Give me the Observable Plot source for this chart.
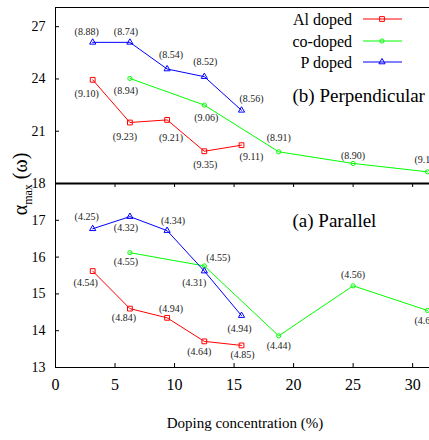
<!DOCTYPE html>
<html><head><meta charset="utf-8">
<script src="https://cdn.jsdelivr.net/npm/d3@7"></script>
<script src="https://cdn.jsdelivr.net/npm/@observablehq/plot@0.6"></script>
<style>
html,body{margin:0;padding:0;background:#fff;overflow:hidden;}
#wrap{position:relative;width:429px;height:440px;overflow:hidden;font-family:"Liberation Serif","Times New Roman",serif;background:#fff;}
#wrap svg{position:absolute;left:0;max-width:none !important;}
#ytitle{position:absolute;left:22px;top:184px;transform:translate(-50%,-50%) rotate(-90deg);white-space:nowrap;font-size:20px;line-height:1;color:#000;}
#ytitle sub{font-size:12px;vertical-align:-0.4em;}
</style></head><body><div id="wrap"><div id="ytitle">α<sub>max</sub> (ω)</div></div>
<script>
// ---------------- data ----------------
const seriesNames = ["Al doped", "co-doped", "P doped"];
const xAl = [3.125, 6.25, 9.375, 12.5, 15.625];
const xCo = [6.25, 12.5, 18.75, 25, 31.25];
const xP  = [3.125, 6.25, 9.375, 12.5, 15.625];

// (b) Perpendicular
const perpAl = [23.95, 21.5, 21.65, 19.85, 20.2];
const perpCo = [24.03, 22.5, 19.82, 19.15, 18.67];
const perpP  = [26.1, 26.1, 24.57, 24.13, 22.2];
const perpAlLabels = ["(9.10)", "(9.23)", "(9.21)", "(9.35)", "(9.11)"];
const perpCoLabels = ["(8.94)", "(9.06)", "(8.91)", "(8.90)", "(9.10)"];
const perpPLabels  = ["(8.88)", "(8.74)", "(8.54)", "(8.52)", "(8.56)"];

// (a) Parallel
const parAl = [15.62, 14.6, 14.35, 13.71, 13.6];
const parCo = [16.12, 15.76, 13.86, 15.22, 14.55];
const parP  = [16.77, 17.1, 16.72, 15.62, 14.41];
const parAlLabels = ["(4.54)", "(4.84)", "(4.94)", "(4.64)", "(4.85)"];
const parCoLabels = ["(4.55)", "(4.55)", "(4.44)", "(4.56)", "(4.64)"];
const parPLabels  = ["(4.25)", "(4.32)", "(4.34)", "(4.31)", "(4.94)"];

const xTicks = [0, 5, 10, 15, 20, 25, 30];
const yTicksPerp = [18, 21, 24, 27];
const yTicksPar = [13, 14, 15, 16, 17];

const xLabel = "Doping concentration (%)";
const perpTitle = "(b) Perpendicular";
const parTitle = "(a) Parallel";

// ---------------- layout / style ----------------
const colors = ["#ff0000", "#00ff00", "#0000ff"];
const symbols = ["square", "circle", "triangle"];
const symR = [2.7, 2.1, 2.3];
const d3Symbols = [d3.symbolSquare, d3.symbolCircle, d3.symbolTriangle];
const FONT = "'Liberation Serif', 'Times New Roman', serif";
const W = 440, ML = 55;
const frameW = W - ML;

// label offsets [dx, dy] in pixels
const offPerpAl = [[-6, 14], [-5, 14], [4, 18], [1, 14], [10, 12]];
const offPerpCo = [[-4, 12], [2, 13], [0, -14], [0, -8], [-1, -12]];
const offPerpP  = [[-6, -11], [-4, -11], [4, -14], [1, -15], [10, -12]];
const offParAl  = [[-7, 12], [-6, 9], [4, -9], [-5, 10], [1, 9]];
const offParCo  = [[-4, 9], [14, -8], [0, 10], [0, -11], [-1, 10]];
const offParP   = [[-6, -12], [-4, 11], [6, -10], [-10, 12], [-2, 13]];

function seriesMarks(xs, ys, labels, offs, k) {
  const idx = xs.map((_, i) => i);
  const marks = [
    Plot.line(idx, {x: i => xs[i], y: i => ys[i], stroke: colors[k], strokeWidth: 1}),
    Plot.dot(idx, {x: i => xs[i], y: i => ys[i], symbol: symbols[k], r: symR[k], stroke: colors[k], fill: "none", strokeWidth: 1})
  ];
  idx.forEach(i => {
    marks.push(Plot.text([i], {x: j => xs[j], y: j => ys[j], text: j => labels[j],
      dx: offs[i][0], dy: offs[i][1], fontSize: 10, fill: "#222", fontFamily: FONT}));
  });
  return marks;
}

const wrap = document.getElementById("wrap");
const svgStyle = {background: "none", fontFamily: FONT, color: "#000", overflow: "visible", maxWidth: "none"};

// ---- top panel: (b) Perpendicular ----
const topH = 184, topMT = 7, topMB = 1;
const topPlot = Plot.plot({
  width: W, height: topH,
  marginLeft: ML, marginRight: 0, marginTop: topMT, marginBottom: topMB,
  style: svgStyle,
  x: {domain: [0, 32.34], axis: null},
  y: {domain: [18, 28.1]},
  marks: [
    Plot.frame({stroke: "#000", strokeWidth: 1}),
    Plot.tickY(yTicksPerp, {y: d => d, insetRight: frameW - 4, stroke: "#000"}),
    Plot.axisY({ticks: yTicksPerp, tickFormat: d => String(d), tickSize: 0, tickPadding: 10, fontSize: 14, label: null}),
    ...seriesMarks(xAl, perpAl, perpAlLabels, offPerpAl, 0),
    ...seriesMarks(xCo, perpCo, perpCoLabels, offPerpCo, 1),
    ...seriesMarks(xP, perpP, perpPLabels, offPerpP, 2),
    Plot.text([perpTitle], {frameAnchor: "top-left", dx: 292 - ML, dy: 95 - topMT, textAnchor: "start", lineAnchor: "middle", fontSize: 19, fill: "#000"})
  ]
});
topPlot.style.top = "0px";
topPlot.style.width = W + "px";
topPlot.style.height = topH + "px";
wrap.appendChild(topPlot);

// legend
const leg = d3.select(topPlot).append("g").attr("font-family", FONT);
seriesNames.forEach((name, k) => {
  const y = [19, 41, 62][k];
  leg.append("text").attr("x", 352).attr("y", y).attr("dy", "0.35em")
    .attr("text-anchor", "end").attr("font-size", 16).attr("fill", "#000").text(name);
  leg.append("line").attr("x1", 363).attr("x2", 402).attr("y1", y).attr("y2", y)
    .attr("stroke", colors[k]).attr("stroke-width", 1);
  leg.append("path").attr("transform", `translate(382,${y})`)
    .attr("d", d3.symbol(d3Symbols[k], symR[k] * symR[k] * Math.PI)())
    .attr("fill", "none").attr("stroke", colors[k]).attr("stroke-width", 1);
});

// ---- bottom panel: (a) Parallel ----
const botH = 265, botMT = 8, botMB = 73;
const botFrameH = botH - botMT - botMB;
const botPlot = Plot.plot({
  width: W, height: botH,
  marginLeft: ML, marginRight: 0, marginTop: botMT, marginBottom: botMB,
  style: svgStyle,
  x: {domain: [0, 32.34]},
  y: {domain: [13, 18]},
  marks: [
    Plot.frame({stroke: "#000", strokeWidth: 1}),
    Plot.ruleY([18], {stroke: "#000", strokeWidth: 2}),
    Plot.tickX(xTicks, {x: d => d, insetTop: botFrameH - 4, stroke: "#000"}),
    Plot.tickX(xTicks, {x: d => d, insetBottom: botFrameH - 4, stroke: "#000"}),
    Plot.tickY(yTicksPar, {y: d => d, insetRight: frameW - 4, stroke: "#000"}),
    Plot.axisY({ticks: yTicksPar, tickFormat: d => String(d), tickSize: 0, tickPadding: 10, fontSize: 14, label: null}),
    Plot.axisX({ticks: xTicks, tickFormat: d => String(d), tickSize: 0, tickPadding: 11, fontSize: 16, label: null}),
    ...seriesMarks(xAl, parAl, parAlLabels, offParAl, 0),
    ...seriesMarks(xCo, parCo, parCoLabels, offParCo, 1),
    ...seriesMarks(xP, parP, parPLabels, offParP, 2),
    Plot.text([parTitle], {frameAnchor: "top-left", dx: 292 - ML, dy: 220 - 183, textAnchor: "start", lineAnchor: "middle", fontSize: 19, fill: "#000"}),
    Plot.text([xLabel], {frameAnchor: "bottom", dx: -3, dy: 56, lineAnchor: "middle", fontSize: 15, fill: "#000"})
  ]
});
botPlot.style.top = (183 - botMT) + "px";
botPlot.style.width = W + "px";
botPlot.style.height = botH + "px";
wrap.appendChild(botPlot);
</script>
</body></html>
